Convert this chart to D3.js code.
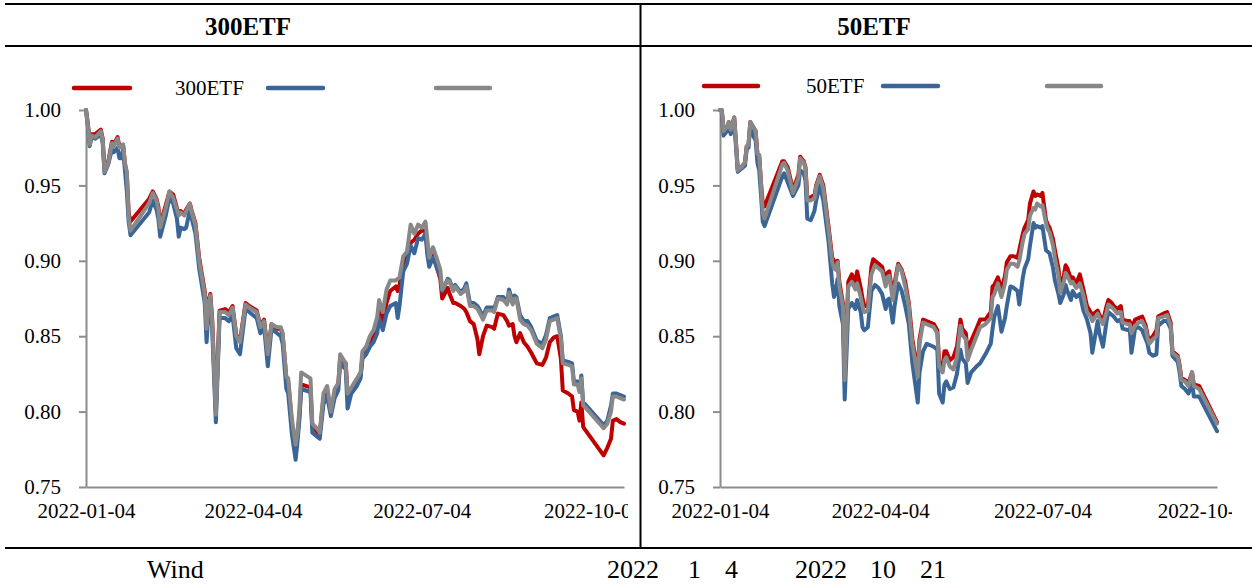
<!DOCTYPE html>
<html>
<head>
<meta charset="utf-8">
<script src="https://cdn.jsdelivr.net/npm/d3@7"></script>
<style>
  html, body { margin: 0; padding: 0; background: #fff; }
  svg { display: block; }
</style>
</head>
<body>
<div id="chart"></div>
<script>
/* two ETF net-value panels, 2022-01-04 .. 2022-10-21 */

// ---- 300ETF panel (dates are MM-DD in 2022) ----
var dates300 = [
  '01-04','01-05','01-06','01-07','01-09','01-12','01-13','01-14','01-16','01-18','01-19','01-21','01-22','01-23','01-24','01-25','01-26','01-27','01-28',
  '02-07','02-09','02-11','02-12','02-13','02-16','02-18','02-20','02-22','02-23','02-24','02-26','02-27',
  '03-01','03-02','03-04','03-06','03-09','03-10','03-11','03-12','03-13','03-15','03-17','03-20','03-22','03-24','03-26','03-28','03-31',
  '04-02','04-06','04-08','04-10','04-12','04-14','04-17','04-19','04-20','04-22','04-23','04-25','04-27','04-28','04-29','04-30',
  '05-05','05-06','05-09','05-10','05-12','05-14','05-16','05-18','05-20','05-21','05-24','05-25','05-27','05-30',
  '06-01','06-02','06-04','06-06','06-08','06-10','06-11','06-13','06-15','06-17','06-20','06-21','06-22','06-24','06-26','06-28','06-30',
  '07-02','07-04','07-06','07-07','07-08','07-10','07-12','07-14','07-15','07-18','07-19','07-21','07-22','07-25','07-27','07-28','07-30',
  '08-01','08-03','08-04','08-06','08-08','08-11','08-12','08-14','08-17','08-19','08-20','08-22','08-23','08-24','08-26','08-28','08-30',
  '09-01','09-04','09-07','09-09','09-11','09-13','09-15','09-17','09-18','09-21','09-23','09-24','09-26','09-27','09-28','09-29','09-30',
  '10-10','10-12','10-14','10-15','10-17','10-19','10-21'
];
var red300 = [
  1.000,.991,.979,.984,.984,.987,.981,.960,.966,.979,.977,.982,.976,.976,.977,.964,.958,.932,.926,
  .941,.946,.941,.936,.924,.937,.946,.944,.935,.931,.933,.931,.934,
  .938,.933,.925,.902,.880,.857,.874,.878,.862,.800,.867,.868,.866,.870,.851,.847,.872,
  .870,.867,.857,.861,.839,.858,.855,.855,.851,.822,.820,.792,.775,.784,.797,.818,
  .816,.790,.786,.785,.809,.814,.800,.812,.818,.836,.832,.812,.815,.820,
  .824,.836,.840,.846,.850,.858,.868,.860,.872,.880,.883,.880,.884,.898,.902,.912,.914,
  .918,.920,.920,.908,.902,.906,.896,.888,.875,.882,.878,.872,.872,.870,.868,.866,.860,
  .858,.848,.838,.850,.857,.856,.855,.865,.864,.860,.857,.858,.850,.846,.852,.846,.843,
  .839,.832,.831,.836,.846,.849,.850,.835,.814,.812,.810,.801,.800,.794,.806,.790,.788,
  .771,.776,.782,.794,.795,.793,.792
];
var blue300 = [
  1.000,.989,.976,.982,.981,.984,.978,.958,.964,.974,.972,.975,.968,.968,.974,.960,.946,.926,.917,
  .932,.940,.934,.928,.916,.930,.942,.938,.928,.916,.922,.921,.922,
  .934,.928,.918,.895,.872,.846,.866,.872,.855,.793,.862,.862,.860,.864,.842,.838,.868,
  .866,.862,.852,.856,.830,.855,.852,.850,.845,.815,.812,.785,.768,.780,.794,.815,
  .813,.786,.783,.782,.805,.810,.797,.809,.814,.832,.828,.802,.812,.817,
  .822,.835,.838,.843,.846,.852,.862,.854,.865,.870,.872,.862,.870,.893,.898,.910,.905,
  .915,.914,.918,.904,.896,.902,.896,.890,.880,.888,.887,.881,.884,.879,.882,.885,.872,
  .872,.870,.868,.863,.869,.869,.868,.876,.876,.872,.881,.873,.877,.876,.864,.860,.860,
  .856,.847,.845,.851,.862,.863,.864,.850,.834,.833,.832,.820,.820,.815,.824,.806,.805,
  .791,.794,.804,.812,.812,.811,.810
];
var gray300 = [
  1.000,.990,.977,.983,.982,.986,.980,.959,.965,.978,.976,.981,.975,.976,.977,.965,.959,.930,.920,
  .938,.945,.940,.934,.922,.935,.946,.942,.934,.930,.932,.930,.933,
  .938,.932,.924,.900,.878,.855,.872,.877,.860,.798,.866,.866,.864,.869,.850,.846,.871,
  .869,.866,.856,.860,.838,.858,.856,.856,.852,.823,.822,.795,.778,.786,.801,.826,
  .822,.792,.788,.786,.812,.817,.800,.815,.819,.838,.832,.812,.816,.822,
  .826,.840,.843,.850,.854,.863,.874,.866,.881,.887,.887,.888,.889,.903,.906,.924,.918,
  .924,.922,.926,.914,.902,.909,.902,.894,.881,.887,.886,.880,.883,.878,.880,.883,.870,
  .870,.868,.866,.861,.867,.867,.866,.875,.874,.871,.879,.871,.875,.875,.861,.858,.857,
  .854,.845,.842,.848,.860,.861,.862,.848,.832,.831,.830,.818,.818,.813,.822,.804,.803,
  .789,.792,.800,.810,.810,.809,.808
];

// ---- 50ETF panel ----
var dates50 = [
  '01-04','01-05','01-06','01-08','01-09','01-10','01-11','01-12','01-13','01-14','01-16','01-18','01-19','01-20','01-21','01-23','01-24','01-25','01-26','01-27','01-28','01-29',
  '02-08','02-09','02-11','02-14','02-17','02-18','02-20','02-21','02-22','02-24','02-25','02-26','02-27',
  '03-01','03-03','03-06','03-08','03-09','03-10','03-11','03-12','03-14','03-15','03-17','03-19','03-21','03-22','03-24','03-25','03-26','03-28','03-30','03-31',
  '04-01','04-03','04-05','04-07','04-08','04-09','04-11','04-12','04-14','04-16','04-18','04-20','04-21','04-22','04-25','04-26','04-28','04-30',
  '05-02','05-04','05-06','05-07','05-09','05-10','05-11','05-13','05-15','05-17','05-19','05-20','05-22','05-23','05-25','05-28','05-30',
  '06-02','06-05','06-06','06-07','06-09','06-11','06-13','06-14','06-16','06-18','06-20','06-21','06-23','06-24','06-26','06-27','06-29','06-30',
  '07-01','07-03','07-04','07-06','07-07','07-08','07-10','07-11','07-13','07-14','07-16','07-17','07-18','07-20','07-21','07-23','07-25','07-27','07-29','07-31',
  '08-01','08-04','08-05','08-07','08-09','08-10','08-12','08-13','08-15','08-17','08-18','08-21','08-22','08-23','08-25','08-27','08-29','08-31',
  '09-01','09-02','09-04','09-06','09-07','09-10','09-12','09-14','09-15','09-18','09-19','09-20','09-22','09-24','09-26','09-27','09-30','10-10'
];
var red50 = [
  1.000,1.000,.986,.989,.992,.987,.991,.995,.978,.960,.962,.965,.976,.977,.992,.988,.986,.971,.970,.952,.938,.936,
  .966,.966,.962,.947,.957,.969,.966,.962,.942,.942,.943,.943,.950,
  .957,.950,.922,.902,.900,.898,.900,.886,.872,.823,.886,.891,.886,.893,.882,.875,.870,.870,.896,.901,
  .900,.898,.896,.886,.892,.893,.877,.885,.898,.894,.886,.872,.860,.848,.826,.848,.861,.860,
  .859,.858,.854,.833,.830,.840,.840,.834,.836,.843,.861,.855,.852,.840,.847,.855,.861,
  .861,.866,.883,.884,.889,.881,.890,.899,.903,.903,.902,.907,.918,.922,.927,.938,.946,.943,
  .944,.943,.945,.927,.924,.922,.914,.907,.895,.883,.890,.897,.895,.888,.889,.885,.891,.881,.870,.866,
  .864,.867,.864,.860,.870,.874,.872,.870,.868,.870,.861,.860,.860,.855,.861,.862,.863,.857,
  .851,.847,.850,.854,.863,.865,.866,.859,.840,.837,.831,.822,.821,.819,.826,.818,.817,.793
];
var blue50 = [
  1.000,.999,.983,.986,.990,.984,.988,.992,.975,.959,.961,.963,.974,.975,.989,.982,.980,.965,.960,.944,.926,.923,
  .956,.958,.952,.943,.950,.960,.958,.953,.928,.927,.930,.933,.940,
  .950,.940,.912,.885,.876,.880,.888,.870,.858,.808,.868,.872,.868,.874,.866,.856,.854,.856,.880,.882,
  .884,.882,.878,.868,.874,.875,.859,.870,.885,.880,.870,.858,.845,.832,.806,.826,.840,.845,
  .844,.843,.841,.812,.806,.818,.820,.815,.816,.825,.841,.835,.832,.819,.826,.830,.832,
  .838,.845,.855,.863,.870,.853,.862,.870,.883,.882,.880,.871,.889,.895,.901,.910,.925,.922,
  .923,.922,.923,.907,.906,.905,.895,.887,.878,.872,.878,.884,.880,.874,.880,.876,.878,.867,.861,.852,
  .839,.860,.852,.843,.860,.866,.864,.863,.860,.861,.855,.854,.855,.839,.855,.856,.854,.848,
  .845,.839,.837,.838,.857,.860,.860,.855,.837,.833,.826,.817,.815,.812,.819,.810,.810,.787
];
var gray50 = [
  1.000,1.000,.986,.989,.992,.987,.991,.995,.978,.960,.962,.965,.976,.977,.992,.988,.986,.971,.970,.952,.932,.928,
  .964,.965,.960,.945,.955,.968,.965,.961,.940,.940,.941,.941,.949,
  .956,.948,.920,.899,.895,.894,.899,.883,.870,.821,.883,.886,.881,.885,.876,.870,.866,.867,.891,.894,
  .897,.895,.893,.883,.889,.890,.874,.882,.897,.893,.883,.870,.856,.845,.823,.845,.859,.858,
  .857,.856,.852,.830,.826,.834,.836,.830,.828,.836,.857,.851,.848,.834,.841,.850,.856,
  .858,.862,.876,.878,.885,.876,.885,.894,.898,.898,.896,.900,.913,.918,.921,.930,.935,.934,
  .938,.936,.937,.925,.921,.919,.910,.902,.890,.879,.886,.892,.890,.885,.886,.882,.885,.877,.866,.863,
  .860,.865,.862,.858,.866,.871,.869,.868,.865,.866,.859,.858,.858,.852,.857,.859,.860,.855,
  .849,.845,.848,.850,.862,.863,.864,.857,.839,.836,.830,.821,.820,.817,.826,.817,.815,.792
];

var yTicks = [0.75, 0.80, 0.85, 0.90, 0.95, 1.00];
var xTickDates = ['2022-01-04', '2022-04-04', '2022-07-04', '2022-10-04'];
var panelTitles = ['300ETF', '50ETF'];
var legendNames = ['300ETF', '50ETF'];
var footerParts = [
  {t: 'Wind', x: 147}, {t: '2022', x: 607}, {t: '1', x: 688}, {t: '4', x: 725},
  {t: '2022', x: 795}, {t: '10', x: 870}, {t: '21', x: 920}
];

var W = 1252, H = 587;
var SERIF = '"Liberation Serif", "Times New Roman", serif';
var RED = '#c00000', BLUE = '#3a6597', GRAY = '#888888', AXIS = '#8c8c8c';
var parse = d3.timeParse('%Y-%m-%d');

var svg = d3.select('#chart').append('svg')
  .attr('width', W).attr('height', H)
  .style('font-family', SERIF);

svg.append('rect').attr('width', W).attr('height', H).attr('fill', '#fff');

/* table rules */
function rule(x1, y1, x2, y2) {
  svg.append('line')
    .attr('x1', x1).attr('y1', y1).attr('x2', x2).attr('y2', y2)
    .attr('stroke', '#000').attr('stroke-width', 2);
}
rule(5, 4, W, 4);
rule(5, 46, W, 46);
rule(5, 548, W, 548);
rule(640.5, 4, 640.5, 548);

var panels = [
  {title: panelTitles[0], legend: legendNames[0], dates: dates300,
   series: [red300, blue300, gray300],
   x0: 86, x1: 624, end: '2022-10-21', clip: 628, titleX: 248,
   leg: [74, 130, 175, 268, 323, 436, 490], legY: 88},
  {title: panelTitles[1], legend: legendNames[1], dates: dates50,
   series: [red50, blue50, gray50],
   x0: 720, x1: 1217, end: '2022-10-10', clip: 1232, titleX: 874,
   leg: [704, 758, 806, 883, 938, 1047, 1101], legY: 86}
];
var colors = [RED, BLUE, GRAY];

panels.forEach(function (p, pi) {
  var dts = p.dates.map(function (s) { return parse('2022-' + s); });

  var x = d3.scaleTime()
    .domain([parse('2022-01-04'), parse(p.end)])
    .range([p.x0, p.x1]);
  var y = d3.scaleLinear().domain([0.75, 1.00]).range([487, 110]);

  /* header title */
  svg.append('text')
    .attr('x', p.titleX).attr('y', 35)
    .attr('text-anchor', 'middle')
    .attr('font-size', 25).attr('font-weight', 'bold')
    .text(p.title);

  /* clip for the x labels (local coords of the translated axis group) */
  svg.append('clipPath').attr('id', 'clip' + pi)
    .append('rect')
    .attr('x', p.x0 - 70).attr('y', -5)
    .attr('width', p.clip - (p.x0 - 70)).attr('height', 50);

  /* y axis */
  var ya = svg.append('g')
    .attr('transform', 'translate(' + p.x0 + ',0)')
    .call(d3.axisLeft(y).tickValues(yTicks)
      .tickFormat(d3.format('.2f'))
      .tickSize(7).tickSizeOuter(0).tickPadding(18))
    .attr('font-family', SERIF).attr('font-size', 21);
  ya.select('.domain').attr('stroke', AXIS).attr('stroke-width', 2);
  ya.selectAll('.tick line').attr('stroke', AXIS).attr('stroke-width', 2);
  ya.selectAll('.tick text').attr('fill', '#000');

  /* x axis */
  var xa = svg.append('g')
    .attr('transform', 'translate(0,487)')
    .attr('clip-path', 'url(#clip' + pi + ')')
    .call(d3.axisBottom(x)
      .tickValues(xTickDates.map(parse))
      .tickFormat(d3.timeFormat('%Y-%m-%d'))
      .tickSize(0).tickSizeOuter(0).tickPadding(16))
    .attr('font-family', SERIF).attr('font-size', 21);
  xa.select('.domain').attr('stroke', AXIS).attr('stroke-width', 2);
  xa.selectAll('.tick text').attr('fill', '#000');

  /* series lines: red, blue, then gray on top */
  var line = d3.line()
    .x(function (d, i) { return x(dts[i]); })
    .y(function (d) { return y(d); });

  p.series.forEach(function (vals, si) {
    svg.append('path')
      .datum(vals)
      .attr('d', line)
      .attr('fill', 'none')
      .attr('stroke', colors[si])
      .attr('stroke-width', 4)
      .attr('stroke-linejoin', 'round')
      .attr('stroke-linecap', 'round');
  });

  /* legend */
  var L = p.leg;
  [[L[0], L[1]], [L[3], L[4]], [L[5], L[6]]].forEach(function (seg, k) {
    svg.append('line')
      .attr('x1', seg[0]).attr('x2', seg[1])
      .attr('y1', p.legY).attr('y2', p.legY)
      .attr('stroke', colors[k]).attr('stroke-width', 4.5)
      .attr('stroke-linecap', 'round');
  });
  svg.append('text')
    .attr('x', L[2]).attr('y', p.legY + 7)
    .attr('font-size', 21)
    .text(p.legend);
});

/* source line */
footerParts.forEach(function (f) {
  svg.append('text')
    .attr('x', f.x).attr('y', 578)
    .attr('font-size', 26)
    .text(f.t);
});
</script>
</body>
</html>
